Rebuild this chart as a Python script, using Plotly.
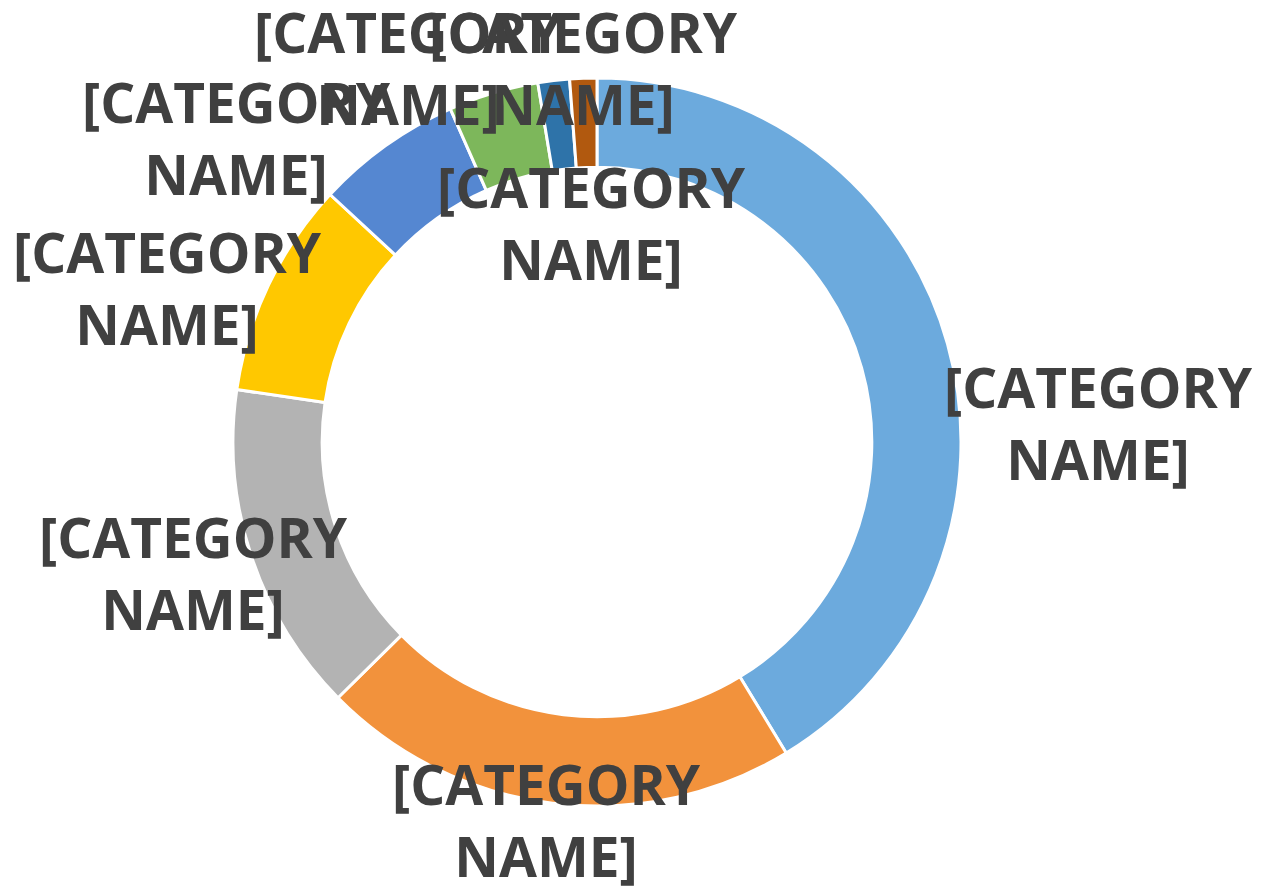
"""Donut chart with placeholder category labels."""

import plotly.graph_objects as go

categories = ["A", "B", "C", "D", "E", "F", "G", "H"]
values = [41.3, 21.3, 14.7, 9.6, 6.5, 4.0, 1.4, 1.2]
labels = ["[CATEGORY<br>NAME]"] * len(categories)
colors = ["#6CAADD", "#F2923C", "#B3B3B3", "#FFC800",
          "#5587D1", "#7DB75B", "#2E73A9", "#B1590F"]

W, H = 1263, 891
OFF = 8  # page body margin
cx, cy, r = 597 - OFF, 442 - OFF, 364

# label centres in pixels (x, y from top), one per slice
label_pos = [(1100, 425), (548, 822), (195, 575), (170, 290),
             (238, 140), (410, 70), (585, 70), (593, 225)]

fig = go.Figure(
    go.Pie(
        labels=categories,
        values=values,
        hole=0.755,
        sort=False,
        direction="clockwise",
        rotation=0,
        textinfo="none",
        hoverinfo="label+percent",
        marker=dict(colors=colors, line=dict(color="white", width=3)),
        domain=dict(
            x=[(cx - r) / W, (cx + r) / W],
            y=[(H - cy - r) / H, (H - cy + r) / H],
        ),
        showlegend=False,
    )
)

for text, (px, py) in zip(labels, label_pos):
    fig.add_annotation(
        x=(px - OFF - 2) / W,
        y=1 - (py - OFF - 3) / H,
        xref="paper",
        yref="paper",
        text=text,
        showarrow=False,
        xanchor="center",
        yanchor="middle",
        font=dict(family="Open Sans", size=55, color="#404040", weight="bold"),
    )

fig.update_layout(
    width=W,
    height=H,
    margin=dict(l=0, r=0, t=0, b=0),
    paper_bgcolor="white",
    plot_bgcolor="white",
)

fig.write_html("out.html")
